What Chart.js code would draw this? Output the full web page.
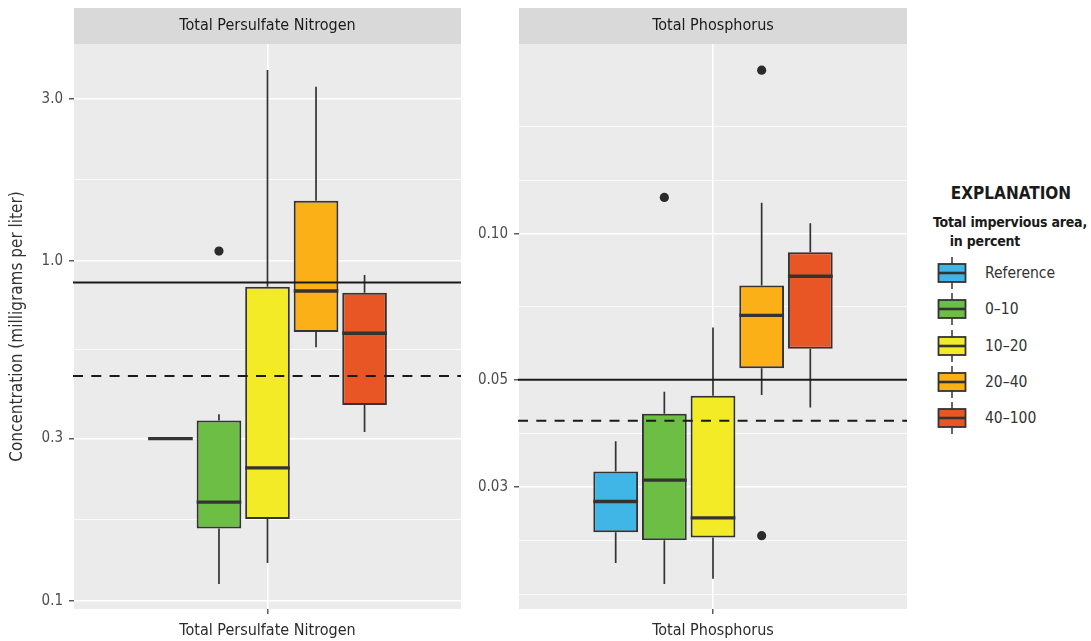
<!DOCTYPE html>
<html>
<head>
<meta charset="utf-8">
<script src="https://cdn.jsdelivr.net/npm/chart.js@4.4.1/dist/chart.umd.min.js"></script>
<style>
  html, body { margin: 0; padding: 0; background: #fff; }
  body { width: 1091px; height: 641px; position: relative; overflow: hidden;
         font-family: 'Liberation Sans Narrow', 'DejaVu Sans Condensed', 'Liberation Sans', sans-serif; color: #1a1a1a; }
  canvas { position: absolute; top: 0; }
  #c1 { left: 0; }
  #c2 { left: 470px; }
  .lg-title { position: absolute; left: 935px; width: 152px; top: 181px; text-align: center;
              font-weight: bold; font-size: 17px; line-height: 24px; }
  .lg-sub { position: absolute; left: 933px; top: 213px; font-weight: bold; font-size: 14px; line-height: 19px;
            white-space: nowrap; letter-spacing: -0.2px; }
  .lg-key { position: absolute; left: 937px; }
  .lg-lab { position: absolute; left: 985px; font-size: 15.5px; line-height: 20px; color: #333; }
</style>
</head>
<body>
<canvas id="c1" width="470" height="641"></canvas>
<canvas id="c2" width="445" height="641"></canvas>
<div class="lg-title">EXPLANATION</div>
<div class="lg-sub">Total impervious area,<br>&nbsp;&nbsp;&nbsp;&nbsp;in percent</div>
<div id="legend"></div>
<script>
// groups (impervious area classes)
const groups = ['Reference', '0–10', '10–20', '20–40', '40–100'];
const groupColors = ['#40B6E6', '#6CBE45', '#F3EB25', '#FCB017', '#E85625'];

// Total Persulfate Nitrogen, mg/L
const nLow  = [0.30, 0.112, 0.129, 0.557, 0.314];
const nQ1   = [0.30, 0.163, 0.174, 0.618, 0.377];
const nMed  = [0.30, 0.195, 0.246, 0.816, 0.613];
const nQ3   = [0.30, 0.339, 0.840, 1.505, 0.807];
const nHigh = [0.30, 0.354, 3.65, 3.26, 0.909];
const nOut  = [[], [1.07], [], [], []];
const nSolid = 0.864;
const nDashed = 0.459;
const nTicks = [0.1, 0.3, 1, 3];
const nTickLabels = ['0.1', '0.3', '1.0', '3.0'];

// Total Phosphorus, mg/L
const pLow  = [0.0209, 0.0189, 0.0194, 0.0465, 0.0438];
const pQ1   = [0.0242, 0.0233, 0.0236, 0.0528, 0.0579];
const pMed  = [0.0280, 0.0310, 0.0259, 0.0679, 0.0818];
const pQ3   = [0.0323, 0.0425, 0.0463, 0.0783, 0.0917];
const pHigh = [0.0373, 0.0472, 0.0641, 0.1160, 0.1052];
const pOut  = [[], [0.119], [], [0.218, 0.0238], []];
const pSolid = 0.05;
const pDashed = 0.0411;
const pTicks = [0.03, 0.05, 0.1];
const pTickLabels = ['0.03', '0.05', '0.10'];

const FONT = "'Liberation Sans Narrow', 'DejaVu Sans Condensed', 'Liberation Sans', sans-serif";
Chart.defaults.font.family = FONT;

// ggplot-style grid: majors plus log-midpoints, extended one step each side
function gridValues(majors, min, max) {
    const b = majors.map(Math.log10);
    const step = b[1] - b[0];
    const ext = [b[0] - step].concat(b, [b[b.length - 1] + step]);
    const out = [];
    for (let i = 0; i < ext.length; i++) {
        out.push(ext[i]);
        if (i < ext.length - 1) out.push((ext[i] + ext[i + 1]) / 2);
    }
    return out.map(v => Math.pow(10, v)).filter(v => v >= min && v <= max);
}

function isMajor(v, majors) {
    return majors.some(m => Math.abs(m - v) / m < 1e-6);
}

function boxPlugin(strip, stats) {
    return {
        id: 'boxExtras',
        beforeDraw(chart) {
            const { ctx, chartArea: a } = chart;
            ctx.save();
            ctx.fillStyle = '#EBEBEB';
            ctx.fillRect(a.left, a.top, a.right - a.left, a.bottom - a.top);
            ctx.fillStyle = '#D9D9D9';
            ctx.fillRect(a.left, a.top - 36, a.right - a.left, 36);
            ctx.fillStyle = '#1A1A1A';
            ctx.font = '16px ' + FONT;
            ctx.textAlign = 'center';
            ctx.textBaseline = 'middle';
            ctx.fillText(strip, (a.left + a.right) / 2, a.top - 18);
            ctx.restore();
        },
        beforeDatasetsDraw(chart) {
            const ctx = chart.ctx, ys = chart.scales.y;
            ctx.save();
            ctx.strokeStyle = '#333333';
            ctx.lineWidth = 1.7;
            stats.low.forEach((v, i) => {
                const x = chart.getDatasetMeta(i).data[0].x;
                ctx.beginPath();
                ctx.moveTo(x, ys.getPixelForValue(stats.low[i]));
                ctx.lineTo(x, ys.getPixelForValue(stats.q1[i]));
                ctx.moveTo(x, ys.getPixelForValue(stats.q3[i]));
                ctx.lineTo(x, ys.getPixelForValue(stats.high[i]));
                ctx.stroke();
            });
            ctx.restore();
        },
        afterDatasetsDraw(chart) {
            const ctx = chart.ctx, ys = chart.scales.y, a = chart.chartArea;
            ctx.save();
            // medians
            ctx.strokeStyle = '#333333';
            ctx.lineWidth = 3.4;
            stats.med.forEach((v, i) => {
                const bar = chart.getDatasetMeta(i).data[0];
                const y = ys.getPixelForValue(v);
                ctx.beginPath();
                ctx.moveTo(bar.x - bar.width / 2, y);
                ctx.lineTo(bar.x + bar.width / 2, y);
                ctx.stroke();
            });
            // outliers
            ctx.fillStyle = '#2B2B2B';
            stats.out.forEach((list, i) => {
                const x = chart.getDatasetMeta(i).data[0].x;
                list.forEach(v => {
                    ctx.beginPath();
                    ctx.arc(x, ys.getPixelForValue(v), 4.6, 0, Math.PI * 2);
                    ctx.fill();
                });
            });
            // criteria lines
            ctx.strokeStyle = '#1A1A1A';
            ctx.lineWidth = 2;
            let y = ys.getPixelForValue(stats.solid);
            ctx.beginPath(); ctx.moveTo(a.left - 1, y); ctx.lineTo(a.right, y); ctx.stroke();
            ctx.setLineDash([10, 8.3]);
            y = ys.getPixelForValue(stats.dashed);
            ctx.beginPath(); ctx.moveTo(a.left - 1, y); ctx.lineTo(a.right, y); ctx.stroke();
            ctx.restore();
        }
    };
}

function makePanel(id, cfg) {
    const grid = gridValues(cfg.ticks, cfg.min, cfg.max);
    const datasets = groups.map((g, i) => ({
        label: g,
        data: [[cfg.stats.q1[i], cfg.stats.q3[i]]],
        backgroundColor: groupColors[i],
        borderColor: '#333333',
        borderWidth: 2,
        borderSkipped: false,
        categoryPercentage: 0.627,
        barPercentage: 0.92
    }));
    return new Chart(document.getElementById(id), {
        type: 'bar',
        data: { labels: [cfg.strip], datasets: datasets },
        options: {
            responsive: false,
            animation: false,
            layout: { padding: { top: 44, right: cfg.padRight, left: 0, bottom: 0 } },
            plugins: { legend: { display: false }, tooltip: { enabled: false } },
            scales: {
                x: {
                    offset: true,
                    grid: { offset: false, color: '#FFFFFF', lineWidth: 1.6, tickColor: '#333333', tickLength: 5, tickWidth: 1.2 },
                    border: { display: false },
                    ticks: { color: '#2B2B2B', font: { size: 16 }, padding: 7 },
                    afterFit: s => { s.height = 32; }
                },
                y: {
                    type: 'logarithmic',
                    min: cfg.min,
                    max: cfg.max,
                    afterBuildTicks: s => { s.ticks = grid.map(v => ({ value: v })); },
                    afterFit: s => { s.width = cfg.axisWidth; },
                    border: { display: false },
                    grid: {
                        color: '#FFFFFF',
                        lineWidth: c => isMajor(c.tick.value, cfg.ticks) ? 1.6 : 0.8,
                        tickColor: c => isMajor(c.tick.value, cfg.ticks) ? '#333333' : 'rgba(0,0,0,0)',
                        tickLength: 5,
                        tickWidth: 1.2
                    },
                    ticks: {
                        autoSkip: false,
                        color: '#4D4D4D',
                        font: { size: 15 },
                        padding: 6,
                        callback: v => {
                            const k = cfg.ticks.findIndex(m => Math.abs(m - v) / m < 1e-6);
                            return k >= 0 ? cfg.labels[k] : '';
                        }
                    },
                    title: {
                        display: !!cfg.title,
                        text: cfg.title || '',
                        color: '#333333',
                        font: { size: 17 },
                        padding: { top: 7, bottom: 0 }
                    }
                }
            }
        },
        plugins: [boxPlugin(cfg.strip, cfg.stats)]
    });
}

makePanel('c1', {
    strip: 'Total Persulfate Nitrogen',
    title: 'Concentration (milligrams per liter)',
    min: 0.0945, max: 4.355,
    ticks: nTicks, labels: nTickLabels,
    axisWidth: 74, padRight: 9,
    stats: { low: nLow, q1: nQ1, med: nMed, q3: nQ3, high: nHigh, out: nOut, solid: nSolid, dashed: nDashed }
});

makePanel('c2', {
    strip: 'Total Phosphorus',
    title: '',
    min: 0.01679, max: 0.2469,
    ticks: pTicks, labels: pTickLabels,
    axisWidth: 49, padRight: 8,
    stats: { low: pLow, q1: pQ1, med: pMed, q3: pQ3, high: pHigh, out: pOut, solid: pSolid, dashed: pDashed }
});

// legend: boxplot glyph per group
const legend = document.getElementById('legend');
groups.forEach((g, i) => {
    const cy = 273 + i * 36.3;
    const key = document.createElement('div');
    key.className = 'lg-key';
    key.style.top = (cy - 16) + 'px';
    key.innerHTML = '<svg width="30" height="32" viewBox="0 0 30 32">' +
        '<line x1="15" y1="0" x2="15" y2="7" stroke="#333" stroke-width="1.5"/>' +
        '<line x1="15" y1="25" x2="15" y2="32" stroke="#333" stroke-width="1.5"/>' +
        '<rect x="1.5" y="7" width="27" height="18" fill="' + groupColors[i] + '" stroke="#333" stroke-width="1.8"/>' +
        '<line x1="1.5" y1="16" x2="28.5" y2="16" stroke="#333" stroke-width="2.6"/>' +
        '</svg>';
    legend.appendChild(key);
    const lab = document.createElement('div');
    lab.className = 'lg-lab';
    lab.style.top = (cy - 10) + 'px';
    lab.textContent = g;
    legend.appendChild(lab);
});
</script>
</body>
</html>
